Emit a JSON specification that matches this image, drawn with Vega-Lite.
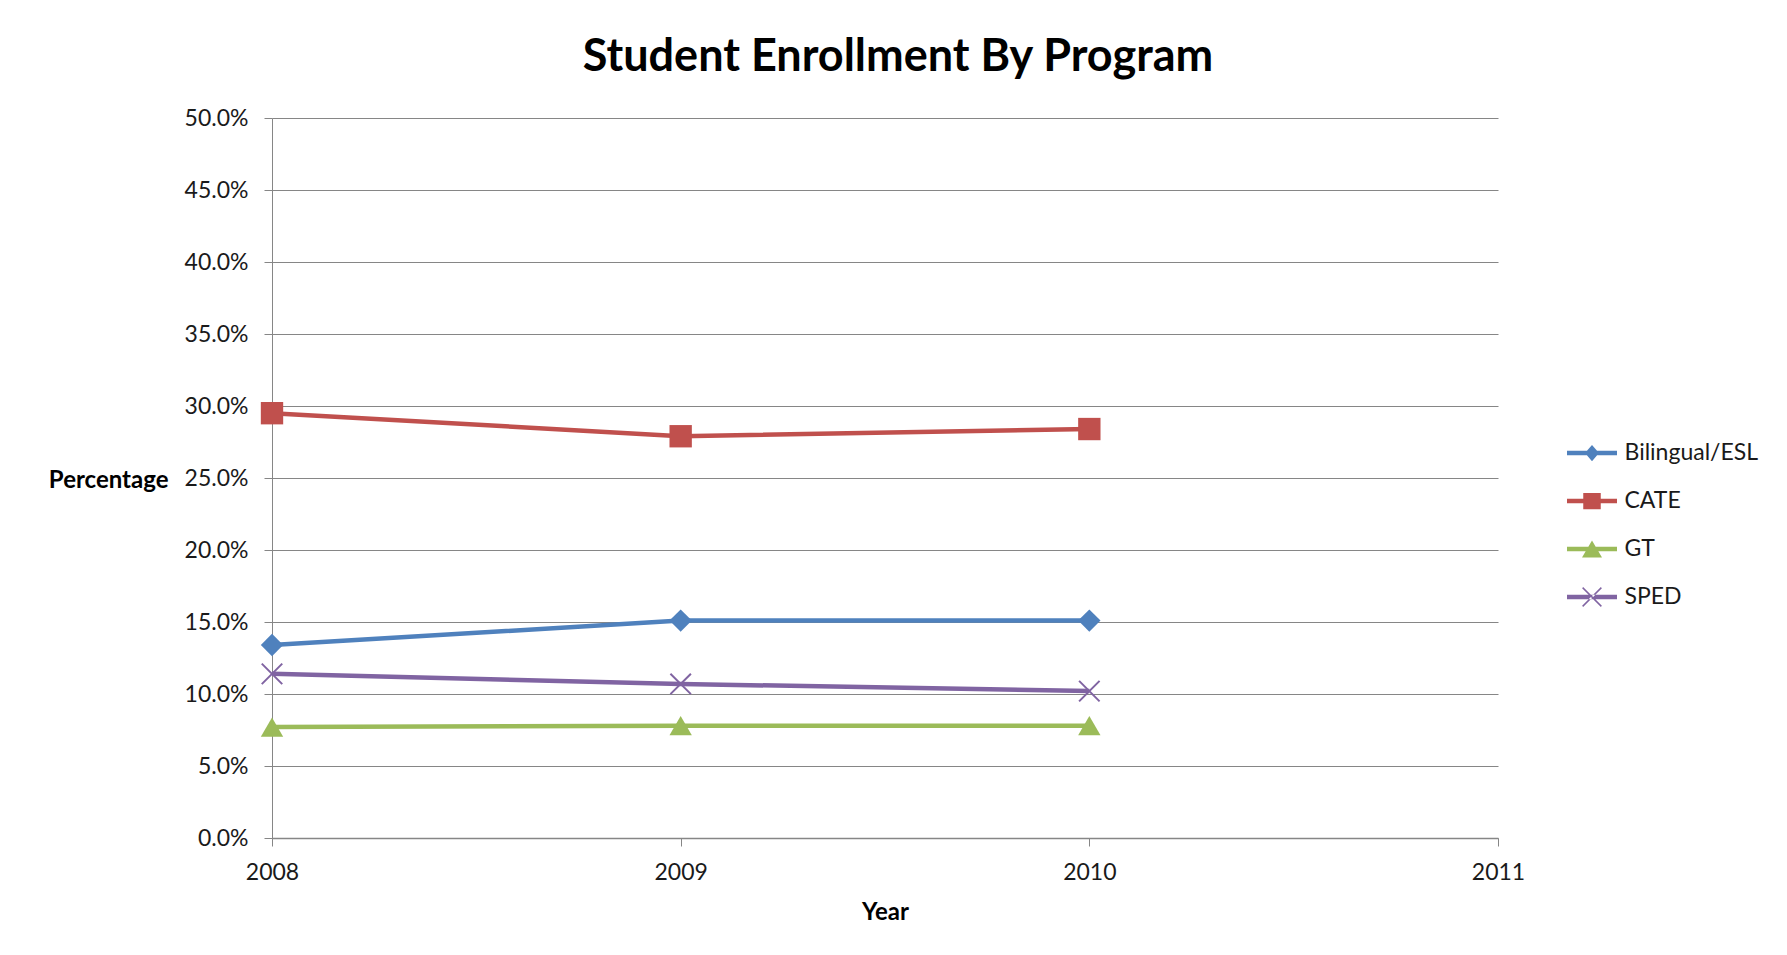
{
  "$schema": "https://vega.github.io/schema/vega-lite/v6.json",
  "width": 1226,
  "height": 720,
  "autosize": "none",
  "padding": {"left": 272, "top": 118, "right": 289, "bottom": 117},
  "background": "white",
  "title": {
    "text": "Student Enrollment By Program",
    "font": "Lato",
    "fontSize": 45,
    "fontWeight": "bold",
    "color": "#000000",
    "anchor": "middle",
    "frame": "group",
    "offset": 27,
    "dx": 13
  },
  "config": {
    "view": {"stroke": null}
  },
  "data": {
    "values": [
      {"program": "Bilingual/ESL", "year": 2008, "pct": 0.134},
      {"program": "Bilingual/ESL", "year": 2009, "pct": 0.151},
      {"program": "Bilingual/ESL", "year": 2010, "pct": 0.151},
      {"program": "CATE", "year": 2008, "pct": 0.295},
      {"program": "CATE", "year": 2009, "pct": 0.279},
      {"program": "CATE", "year": 2010, "pct": 0.284},
      {"program": "GT", "year": 2008, "pct": 0.077},
      {"program": "GT", "year": 2009, "pct": 0.078},
      {"program": "GT", "year": 2010, "pct": 0.078},
      {"program": "SPED", "year": 2008, "pct": 0.114},
      {"program": "SPED", "year": 2009, "pct": 0.107},
      {"program": "SPED", "year": 2010, "pct": 0.102}
    ]
  },
  "encoding": {
    "x": {
      "field": "year",
      "type": "quantitative",
      "scale": {"domain": [2008, 2011], "nice": false, "zero": false},
      "axis": {
        "values": [2008, 2009, 2010, 2011],
        "format": "d",
        "grid": false,
        "title": "Year",
        "titleX": 613,
        "titleY": 74,
        "titleAlign": "center",
        "titleBaseline": "middle",
        "titleFont": "Lato",
        "titleFontSize": 24,
        "titleFontWeight": "bold",
        "titleColor": "#000000",
        "labelFont": "Lato",
        "labelFontSize": 23,
        "labelColor": "#1a1a1a",
        "labelPadding": 15,
        "labelFlush": false,
        "labelOverlap": false,
        "tickSize": 8,
        "tickColor": "#868686",
        "tickWidth": 1,
        "domainColor": "#868686",
        "domainWidth": 1.5
      }
    },
    "y": {
      "field": "pct",
      "type": "quantitative",
      "scale": {"domain": [0, 0.5], "nice": false},
      "axis": {
        "values": [0, 0.05, 0.1, 0.15, 0.2, 0.25, 0.3, 0.35, 0.4, 0.45, 0.5],
        "format": ".1%",
        "grid": true,
        "gridColor": "#868686",
        "gridWidth": 1,
        "title": "Percentage",
        "titleAngle": 0,
        "titleAlign": "right",
        "titleBaseline": "middle",
        "titleX": -104,
        "titleY": 362,
        "titleFont": "Lato",
        "titleFontSize": 24,
        "titleFontWeight": "bold",
        "titleColor": "#000000",
        "labelFont": "Lato",
        "labelFontSize": 23,
        "labelColor": "#1a1a1a",
        "labelPadding": 16,
        "labelFlush": false,
        "labelOverlap": false,
        "tickSize": 8,
        "tickColor": "#868686",
        "domainColor": "#868686",
        "domainWidth": 1
      }
    }
  },
  "layer": [
    {
      "mark": {"type": "line", "strokeWidth": 4.5},
      "encoding": {
        "color": {
          "field": "program",
          "type": "nominal",
          "scale": {
            "domain": ["Bilingual/ESL", "CATE", "GT", "SPED"],
            "range": ["#4F81BD", "#C0504D", "#9BBB59", "#8064A2"]
          },
          "legend": {
            "orient": "none",
            "legendX": 1307.5,
            "legendY": 322.5,
            "title": null,
            "padding": 0,
            "symbolSize": 625,
            "labelFont": "Lato",
            "labelFontSize": 23,
            "labelColor": "#1a1a1a",
            "labelOffset": 20,
            "rowPadding": 23,
            "encode": {
              "symbols": {
                "update": {
                  "shape": {"signal": "datum.value === 'Bilingual/ESL' ? 'M-2,-0.18H2V0.18H-2Z M0,-0.65L0.56,0L0,0.65L-0.56,0Z' : datum.value === 'CATE' ? 'M-2,-0.18H2V0.18H-2Z M-0.7,-0.65H0.7V0.65H-0.7Z' : datum.value === 'GT' ? 'M-2,-0.18H2V0.18H-2Z M0,-0.68L0.8,0.68L-0.8,0.68Z' : 'M-2,-0.18H2V0.18H-2Z M-0.708,-0.792L0.792,0.708L0.708,0.792L-0.792,-0.708Z M-0.708,0.792L0.792,-0.708L0.708,-0.792L-0.792,0.708Z'"},
                  "fill": {"scale": "color", "field": "value"},
                  "fillOpacity": {"value": 1},
                  "opacity": {"value": 1},
                  "strokeWidth": {"value": 0}
                }
              }
            }
          }
        }
      }
    },
    {
      "transform": [{"filter": "datum.program !== 'SPED'"}],
      "mark": {"type": "point", "filled": true, "opacity": 1, "size": 500},
      "encoding": {
        "fill": {
          "field": "program",
          "type": "nominal",
          "scale": {
            "domain": ["Bilingual/ESL", "CATE", "GT"],
            "range": ["#4F81BD", "#C0504D", "#9BBB59"]
          },
          "legend": null
        },
        "shape": {
          "field": "program",
          "type": "nominal",
          "scale": {
            "domain": ["Bilingual/ESL", "CATE", "GT"],
            "range": ["diamond", "square", "triangle-up"]
          },
          "legend": null
        }
      }
    },
    {
      "transform": [{"filter": "datum.program === 'SPED'"}],
      "mark": {
        "type": "point",
        "filled": false,
        "shape": "M-1,-1L1,1M-1,1L1,-1",
        "size": 420,
        "strokeWidth": 2,
        "color": "#8064A2",
        "opacity": 1
      }
    }
  ]
}
